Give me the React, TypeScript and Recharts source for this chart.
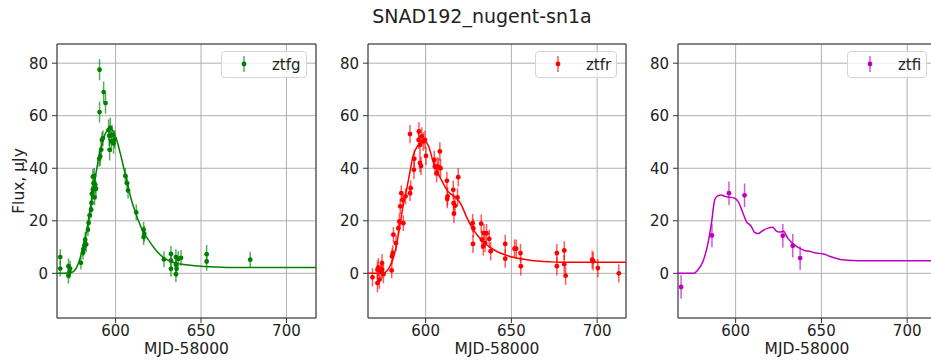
import React from "react";
import {
  ComposedChart,
  Line,
  Scatter,
  ErrorBar,
  XAxis,
  YAxis,
  CartesianGrid,
  ReferenceArea,
} from "recharts";

// observed photometry: [mjd - 58000, flux, error]
const ztfgPoints = [
  [567.6, 6.2, 3], [567.6, 1.8, 3], [572.4, 2.7, 3], [572.4, -0.9, 3], [573.0, 0.5, 2.5],
  [573.4, 1.8, 3], [579.7, 4.0, 2.5], [580.9, 7.8, 2.5], [581.2, 9.2, 2.5], [581.8, 10.5, 3],
  [582.2, 12.8, 3], [582.8, 11.0, 3], [583.8, 16.6, 2.5], [584.2, 19.2, 3], [584.8, 22.1, 3],
  [585.7, 24.2, 3], [585.9, 26.8, 3], [586.1, 30.3, 3], [586.7, 31.9, 3], [587.1, 34.3, 3],
  [586.7, 36.8, 3], [587.5, 37.1, 3], [588.1, 33.7, 3], [587.7, 28.9, 3], [588.5, 32.2, 3],
  [590.4, 43.6, 3], [591.0, 44.5, 3.5], [590.6, 61.4, 4], [590.6, 77.5, 4], [593.0, 69.0, 4],
  [594.1, 64.8, 4], [591.6, 47.0, 3], [592.0, 50.8, 3], [592.6, 51.5, 3], [595.9, 54.6, 4],
  [596.9, 55.3, 4], [596.3, 52.4, 4], [596.5, 47.0, 4], [597.5, 50.2, 4], [597.9, 52.6, 4],
  [598.8, 49.5, 4], [599.5, 51.0, 3.5], [605.7, 37.1, 3], [606.7, 34.3, 3], [607.3, 31.5, 3],
  [612.1, 23.2, 3], [616.4, 16.6, 3], [616.8, 15.0, 3], [616.4, 13.8, 3], [628.3, 5.3, 3],
  [632.4, 7.4, 3], [632.4, 4.8, 3], [632.4, 1.7, 3], [635.3, 6.2, 3], [635.3, 3.3, 3],
  [635.7, 1.7, 3], [635.3, -0.3, 3], [636.7, 5.5, 3], [638.3, 5.9, 3], [653.3, 7.3, 3.5],
  [653.3, 4.5, 3.5], [678.8, 5.2, 3],
];

const ztfrPoints = [
  [569.0, -1.5, 3.5], [571.9, -3.7, 3.5], [571.9, 1.4, 3.5], [572.5, 2.3, 3.5], [573.0, -2.4, 3.5],
  [574.0, 0.8, 3.5], [574.6, 3.9, 3.5], [574.6, 1.4, 3.5], [575.4, -0.3, 3.5], [580.2, 1.1, 3],
  [580.4, 6.5, 3], [580.8, 7.7, 3], [581.2, 14.7, 3], [582.7, 11.5, 3], [584.1, 17.2, 3],
  [584.7, 19.8, 3], [585.2, 25.5, 3], [585.8, 30.5, 3], [586.6, 28.0, 3], [587.0, 19.1, 3],
  [588.3, 29.3, 3], [590.9, 30.5, 3], [591.3, 32.4, 3], [590.9, 53.0, 3.5], [593.2, 39.4, 3.5],
  [593.4, 43.6, 3.5], [595.9, 50.8, 3.5], [596.1, 54.0, 3.5], [596.7, 48.9, 3.5], [596.7, 42.0, 3.5],
  [597.3, 40.9, 3.5], [597.7, 52.1, 3.5], [598.6, 50.2, 3.5], [599.6, 50.8, 3.5], [600.2, 44.7, 3.5],
  [605.0, 43.2, 3.5], [605.4, 40.7, 3.5], [606.4, 38.1, 3.5], [606.8, 40.7, 3.5], [607.6, 40.4, 3.5],
  [608.3, 46.4, 3.5], [608.7, 40.0, 3.5], [612.4, 35.2, 3.5], [612.8, 29.3, 3.5], [612.6, 28.3, 3.5],
  [616.1, 31.8, 3.5], [616.3, 26.7, 3.5], [616.5, 22.7, 3.5], [617.1, 25.7, 3.5], [618.6, 28.9, 3.5],
  [619.0, 36.6, 3.5], [627.4, 19.1, 3.5], [627.8, 17.2, 3.5], [627.6, 11.2, 3.5], [632.4, 18.9, 3.5],
  [632.8, 12.8, 3.5], [633.6, 10.3, 3.5], [634.0, 15.3, 3.5], [634.6, 11.5, 3.5], [635.5, 15.3, 3.5],
  [637.1, 13.1, 3.5], [637.9, 8.4, 3.5], [646.4, 11.2, 3.5], [646.4, 5.6, 3.5], [651.8, 9.4, 3.5],
  [652.8, 9.4, 3.5], [655.3, 7.7, 3.5], [655.5, 2.7, 3.5], [676.5, 7.7, 3.5], [676.5, 2.7, 3.5],
  [680.8, 8.7, 3.5], [680.8, 3.5, 3.5], [681.6, -0.9, 3.5], [697.1, 5.2, 3.5], [697.7, 4.6, 3.5],
  [700.4, 2.0, 3.5], [712.6, 0.0, 3.5],
];

const ztfiPoints = [
  [568.2, -5.2, 4.5], [586.2, 14.4, 4.5], [596.1, 30.5, 4.5], [605.2, 29.7, 4.5],
  [627.5, 14.3, 4.5], [633.3, 10.5, 4.5], [637.6, 5.8, 4.5],
];

// nugent-sn1a model curves: [mjd - 58000, flux]
const ztfgModel = [
  [560, 0], [570, 0], [574, 0.3], [577, 2], [579, 5.3], [581, 10.5], [583, 16], [585, 24],
  [587, 32], [589, 40], [591, 46.5], [593, 51.5], [595, 54.3], [597, 55.3], [599, 53.5],
  [601, 50], [603, 45], [605, 39.5], [607, 34], [609, 28.5], [612, 22.5], [616, 16],
  [620, 12], [624, 8.5], [628, 6], [632, 4.6], [636, 3.8], [640, 3.4], [650, 2.7],
  [660, 2.4], [670, 2.2], [720, 2.2],
];

const ztfrModel = [
  [560, 0], [574, 0], [576.1, 0.2], [580, 3.9], [582.9, 10.3], [584.9, 17.9], [586.8, 25.5],
  [588.7, 31.2], [590.7, 38.1], [592.6, 44.5], [595.1, 48.3], [597.5, 49.9], [599.8, 50.1],
  [601.8, 48.3], [604.3, 42.6], [607.2, 38.1], [610.1, 34.4], [613, 31.2], [615.9, 29.6],
  [617.9, 28.7], [620.8, 26.1], [623.7, 21.7], [626.6, 17.9], [630.5, 14.2], [635.5, 10.9],
  [641.3, 8.4], [651, 6.1], [660.8, 5], [672.4, 4.4], [680, 4.2], [720, 4.2],
];

const ztfiModel = [
  [560, 0], [575.2, 0], [578.1, 1.4], [581, 4.6], [583.9, 11.5], [585.9, 19.1], [587.8, 28],
  [589.1, 29.3], [591.7, 29.8], [593.6, 29.3], [596.5, 29], [599.4, 28.6], [601.4, 27.4],
  [604.3, 22.9], [606.2, 19.8], [609.1, 17.9], [611, 15.6], [613, 15.1], [615.9, 16.3],
  [618.8, 17.2], [621.7, 17.5], [623.6, 16.2], [625.6, 15.7], [627.9, 16], [630.4, 13.4],
  [633.3, 11.3], [637.2, 9.6], [640.1, 8.7], [643, 8.4], [646.9, 7.7], [650.8, 7.5],
  [654.7, 6.5], [660.5, 5.4], [668.2, 4.9], [674, 4.8], [720, 4.8],
];

const xTicks = [600, 650, 700];
const yTicks = [0, 20, 40, 60, 80];
const yDomain: [number, number] = [-17, 87.3];

const FONT = "DejaVu Sans, sans-serif";

const toPts = (arr: number[][]) => arr.map(([x, y, err]) => ({ x, y, err }));
const toLine = (arr: number[][]) => arr.map(([x, y]) => ({ x, y }));

type PanelProps = {
  left: number;
  plotL: number;
  plotR: number;
  domain: [number, number];
  color: string;
  points: number[][];
  model: number[][];
  name: string;
  legendW: number;
  yLabel?: boolean;
};

const Panel = (p: PanelProps) => {
  const width = p.plotR - p.left + 2;
  const dot = (s: any) => <circle cx={s.cx} cy={s.cy} r={2.4} fill={p.color} />;
  const legendLeft = p.plotR - 9 - p.legendW;
  return (
    <>
      <div style={{ position: "absolute", left: p.left, top: 0 }}>
        <ComposedChart
          width={width}
          height={360}
          margin={{ top: 44, right: 2, bottom: 0, left: 0 }}
        >
          <CartesianGrid stroke="#b0b0b0" strokeWidth={1} />
          <XAxis
            type="number"
            dataKey="x"
            domain={p.domain}
            allowDataOverflow
            ticks={xTicks}
            height={42}
            tickSize={5}
            tickMargin={2}
            axisLine={false}
            tickLine={{ stroke: "#333" }}
            tick={{ fontSize: 15, fontFamily: FONT, fill: "#222" }}
            label={({ viewBox }: any) => (
              <text
                x={viewBox.x + viewBox.width / 2}
                y={viewBox.y + 35.5}
                textAnchor="middle"
                fontSize={15.5}
                fontFamily={FONT}
                fill="#222"
              >
                MJD-58000
              </text>
            )}
          />
          <YAxis
            type="number"
            dataKey="y"
            domain={yDomain}
            allowDataOverflow
            ticks={yTicks}
            width={p.plotL - p.left}
            tickSize={5}
            tickMargin={4}
            axisLine={false}
            tickLine={{ stroke: "#333" }}
            tick={{ fontSize: 15, fontFamily: FONT, fill: "#222" }}
            label={
              p.yLabel
                ? ({ viewBox }: any) => (
                    <text
                      x={23.5}
                      y={viewBox.y + viewBox.height / 2}
                      transform={`rotate(-90, 23.5, ${viewBox.y + viewBox.height / 2})`}
                      textAnchor="middle"
                      fontSize={15.5}
                      fontFamily={FONT}
                      fill="#222"
                    >
                      Flux, μJy
                    </text>
                  )
                : undefined
            }
          />
          <Line
            data={toLine(p.model)}
            dataKey="y"
            type="monotone"
            stroke={p.color}
            strokeWidth={1.5}
            dot={false}
            activeDot={false}
            isAnimationActive={false}
          />
          <Scatter
            data={toPts(p.points)}
            dataKey="y"
            fill={p.color}
            shape={dot}
            isAnimationActive={false}
          >
            <ErrorBar
              dataKey="err"
              direction="y"
              width={0}
              stroke={p.color}
              strokeWidth={1.5}
              strokeOpacity={0.65}
            />
          </Scatter>
          <ReferenceArea
            x1={p.domain[0]}
            x2={p.domain[1]}
            y1={yDomain[0]}
            y2={yDomain[1]}
            fill="none"
            stroke="#333"
            strokeWidth={1}
            ifOverflow="visible"
          />
        </ComposedChart>
      </div>
      <div
        style={{
          position: "absolute",
          left: legendLeft,
          top: 51,
          width: p.legendW,
          height: 27,
          boxSizing: "border-box",
          border: "1px solid #d5d5d5",
          borderRadius: 4,
          background: "rgba(255,255,255,0.8)",
          fontFamily: FONT,
          fontSize: 15,
        }}
      >
        <svg
          width={20}
          height={27}
          style={{ position: "absolute", left: 12, top: -1 }}
        >
          <line x1={10} y1={5} x2={10} y2={21} stroke={p.color} strokeWidth={1.5} strokeOpacity={0.65} />
          <circle cx={10} cy={13} r={2.4} fill={p.color} />
        </svg>
        <div
          style={{
            position: "absolute",
            left: 50,
            top: 4,
            lineHeight: "18px",
            color: "#222",
          }}
        >
          {p.name}
        </div>
      </div>
    </>
  );
};

export default function App() {
  return (
    <div
      style={{
        position: "fixed",
        left: 0,
        top: 0,
        width: 931,
        height: 360,
        overflow: "hidden",
        background: "#fff",
        fontFamily: FONT,
      }}
    >
      <div
        style={{
          position: "absolute",
          left: 0,
          width: 964,
          top: 7,
          textAlign: "center",
          fontSize: 19,
          lineHeight: "19px",
          color: "#222",
        }}
      >
        SNAD192_nugent-sn1a
      </div>
      <Panel
        left={0}
        plotL={57}
        plotR={316}
        domain={[565.7, 717.3]}
        color="#008000"
        points={ztfgPoints}
        model={ztfgModel}
        name="ztfg"
        legendW={86}
        yLabel
      />
      <Panel
        left={326}
        plotL={368}
        plotR={626}
        domain={[566.4, 716.8]}
        color="#ff0000"
        points={ztfrPoints}
        model={ztfrModel}
        name="ztfr"
        legendW={82}
      />
      <Panel
        left={636}
        plotL={678}
        plotR={936}
        domain={[566.4, 716.8]}
        color="#bf00bf"
        points={ztfiPoints}
        model={ztfiModel}
        name="ztfi"
        legendW={80}
      />
    </div>
  );
}
